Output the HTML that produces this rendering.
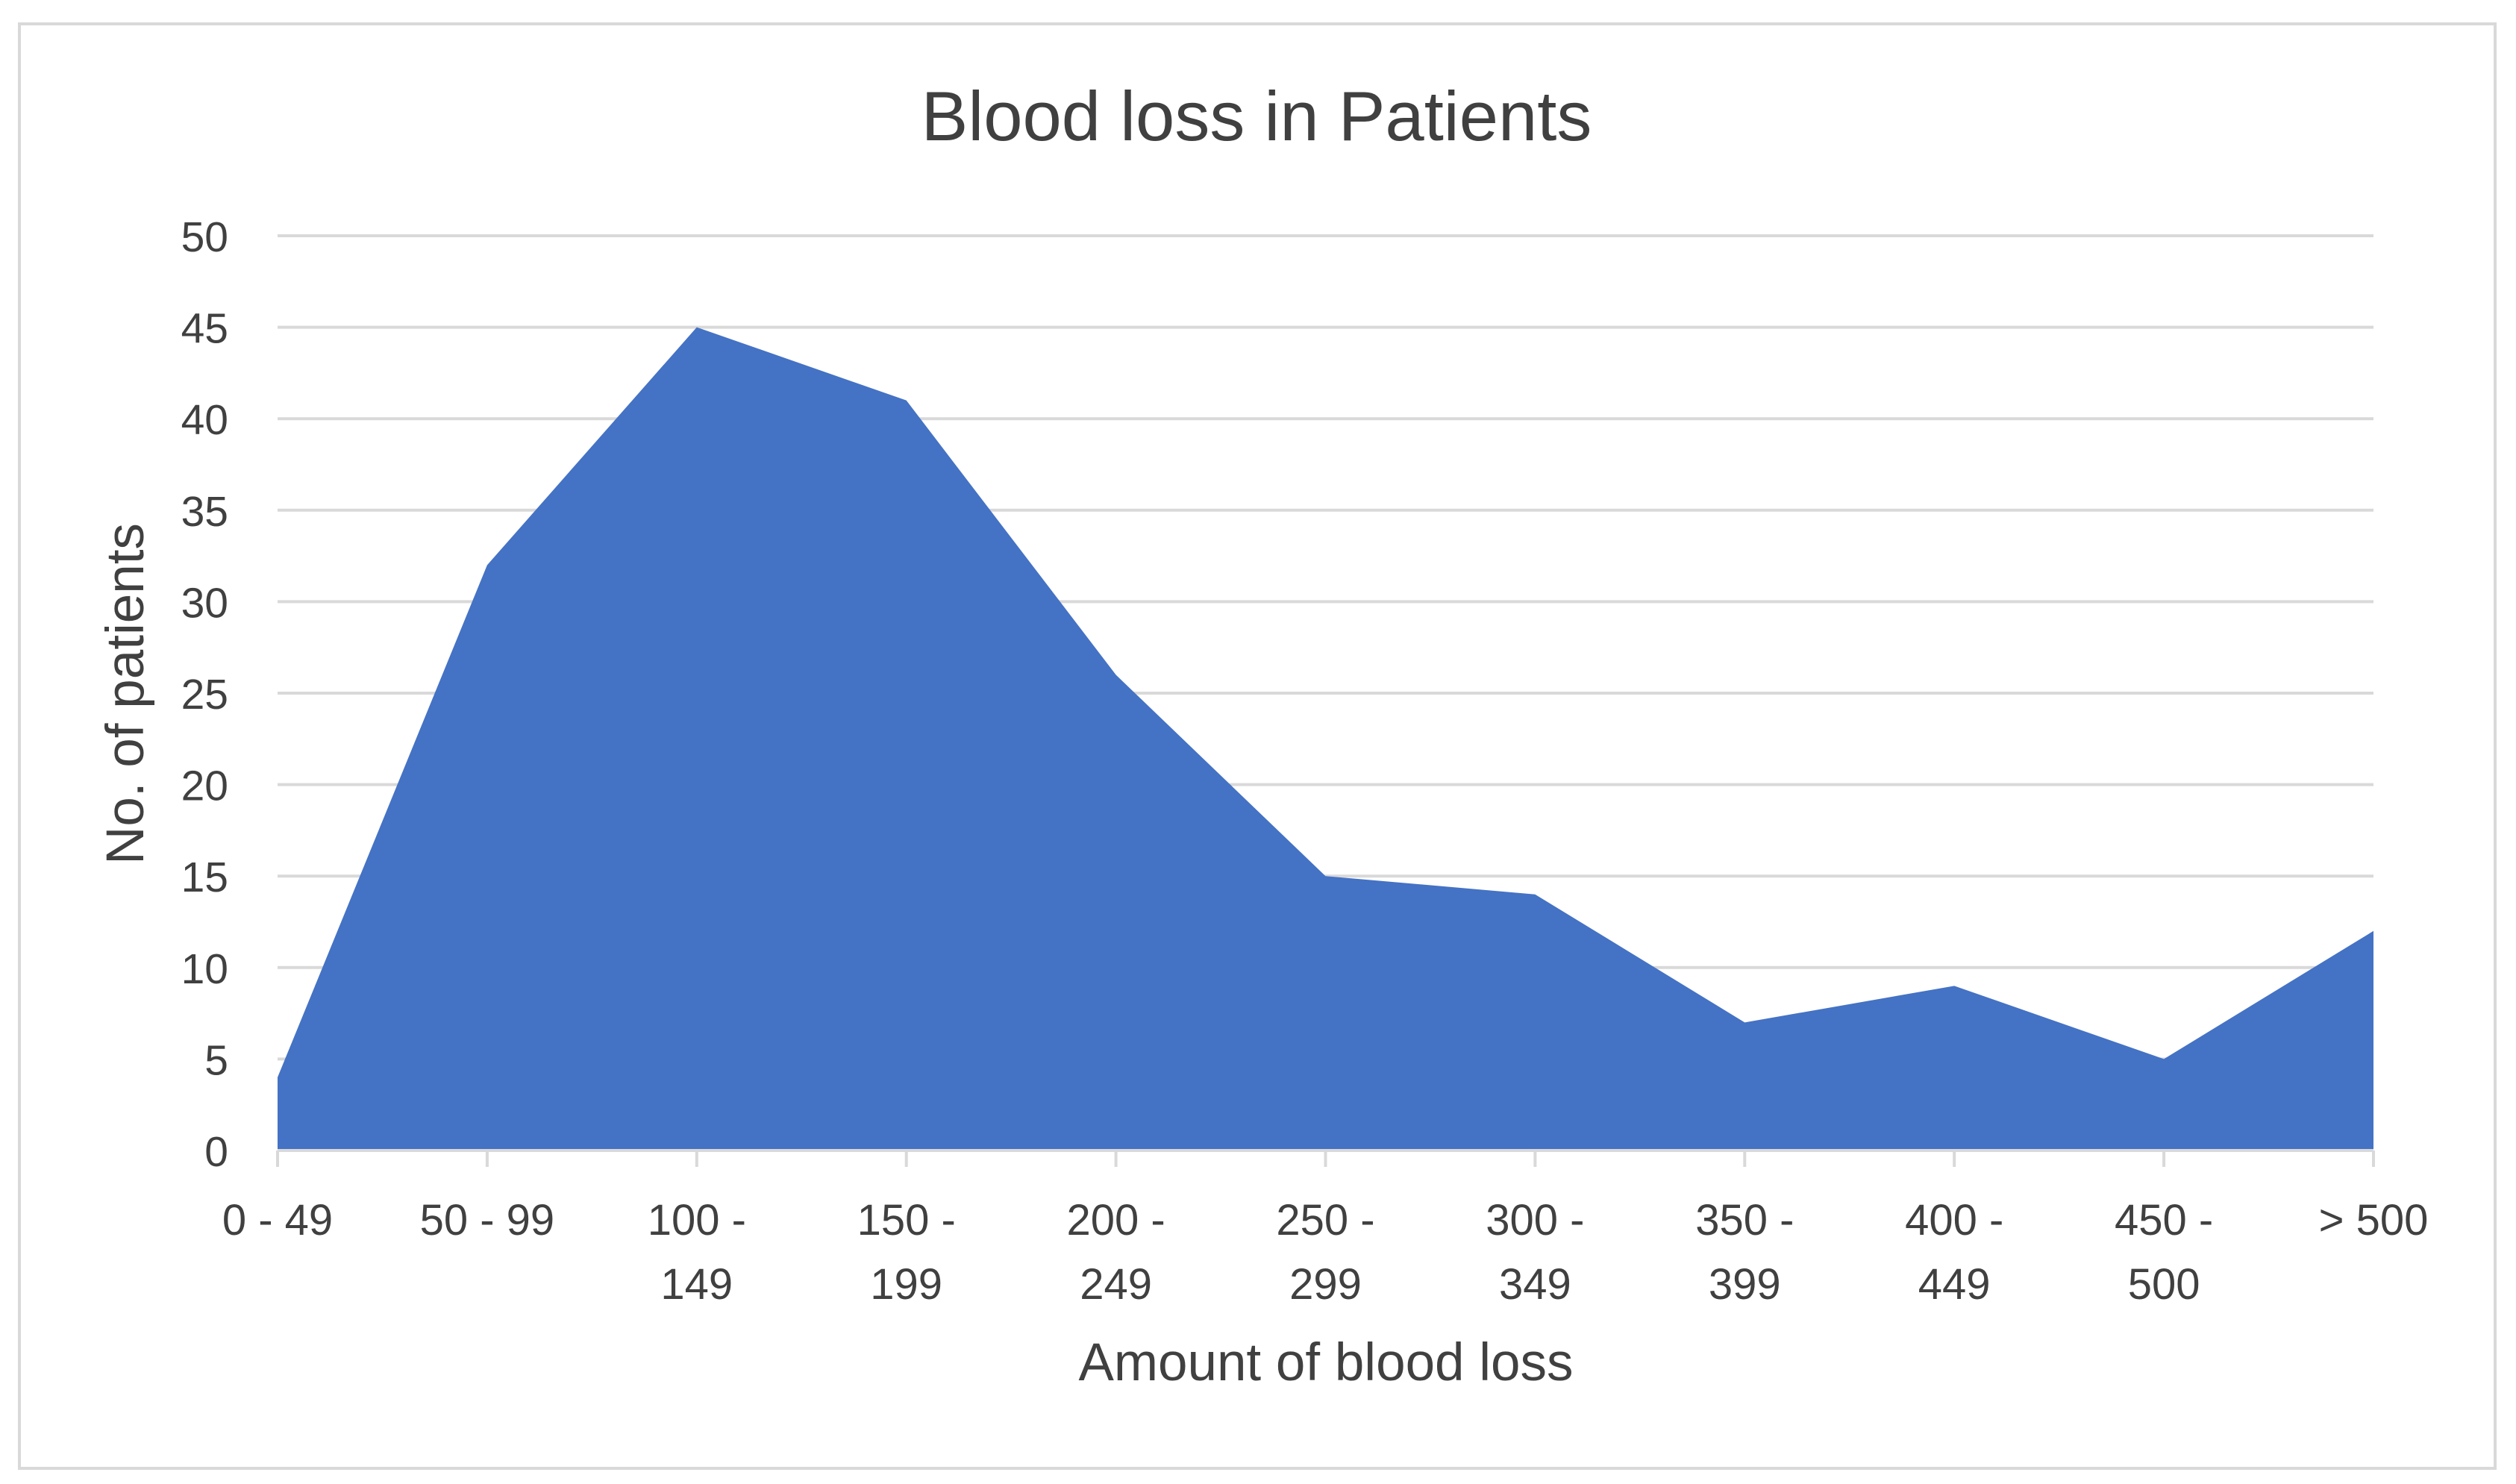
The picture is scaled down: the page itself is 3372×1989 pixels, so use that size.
<!DOCTYPE html>
<html><head><meta charset="utf-8"><style>
html,body{margin:0;padding:0;background:#fff;}
svg{display:block;}
text{font-family:"Liberation Sans",sans-serif;fill:#404040;}
</style></head><body>
<svg id="chart" width="3372" height="1989" viewBox="0 0 3372 1989">
<rect x="26" y="32" width="3318" height="1936" fill="#fff" stroke="#d9d9d9" stroke-width="4"/>
<text x="1684" y="188" font-size="94" text-anchor="middle">Blood loss in Patients</text>
<g id="grid"></g>
<g id="yticks"></g>
<path id="area" fill="#4472C4"></path>
<g id="xaxis"></g>
<g id="xticks"></g>
<text x="1777" y="1850" font-size="71" text-anchor="middle">Amount of blood loss</text>
<text transform="translate(192,930) rotate(-90)" font-size="71" text-anchor="middle">No. of patients</text>
</svg>
<script>
const categories = [["0 - 49"],["50 - 99"],["100 -","149"],["150 -","199"],["200 -","249"],["250 -","299"],["300 -","349"],["350 -","399"],["400 -","449"],["450 -","500"],["> 500"]];
const values = [4,32,45,41,26,15,14,7,9,5,12];
const yTicks = [0,5,10,15,20,25,30,35,40,45,50];
const NS="http://www.w3.org/2000/svg";
const L=372,R=3181,T=316,B=1542,YMAX=50;
function xs(i){return L+(R-L)*i/(categories.length-1);}
function ys(v){return B-(B-T)*v/YMAX;}
function mk(tag,attrs,parent){const e=document.createElementNS(NS,tag);for(const k in attrs)e.setAttribute(k,attrs[k]);parent.appendChild(e);return e;}
const grid=document.getElementById('grid'),yt=document.getElementById('yticks');
yTicks.forEach(v=>{
  const ln=mk('line',{x1:L,x2:R,y1:ys(v),y2:ys(v),stroke:'#d9d9d9','stroke-width':4},grid);
  
  
  const t=mk('text',{x:306,y:ys(v)+21,'font-size':57,'text-anchor':'end'},yt);
  t.textContent=v;
  
  
});
let d='M'+xs(0)+','+ys(0);
values.forEach((v,i)=>{d+=' L'+xs(i)+','+ys(v);});
d+=' L'+xs(values.length-1)+','+ys(0)+' Z';
document.getElementById('area').setAttribute('d',d);
const xa=document.getElementById('xaxis'),xt=document.getElementById('xticks');
const ax=mk('line',{x1:L,x2:R,y1:B,y2:B,stroke:'#d9d9d9','stroke-width':4},xa);


categories.forEach((c,i)=>{
  const tk=mk('line',{x1:xs(i),x2:xs(i),y1:B,y2:B+22,stroke:'#d9d9d9','stroke-width':4},xa);
  
  
  c.forEach((s,j)=>{
    const t=mk('text',{x:xs(i),y:1655+j*86,'font-size':58,'text-anchor':'middle'},xt);
    t.textContent=s;
    
    
  });
});
</script>
</body></html>
